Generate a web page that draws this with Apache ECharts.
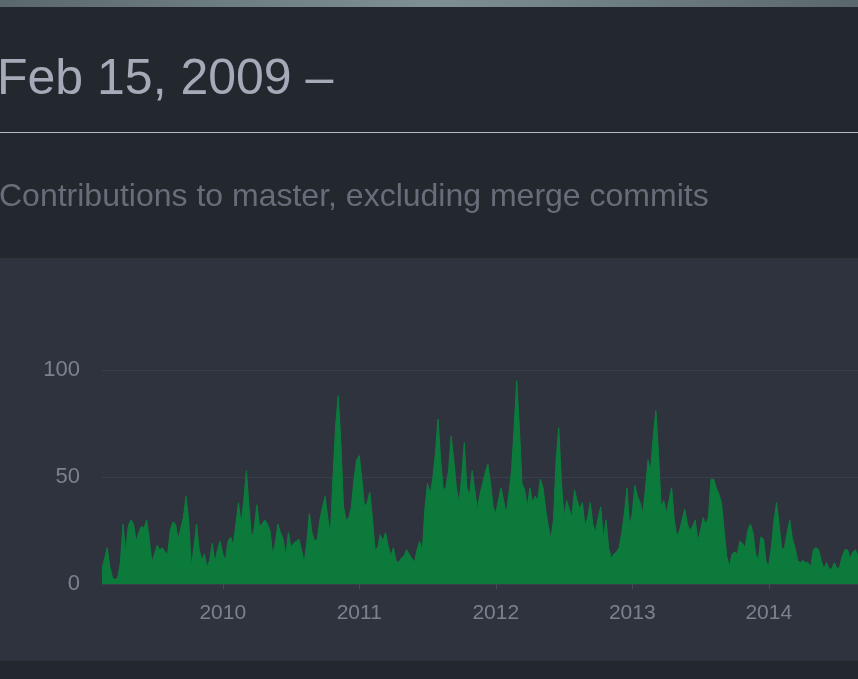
<!DOCTYPE html>
<html>
<head>
<meta charset="utf-8">
<script src="https://cdn.jsdelivr.net/npm/echarts@6/dist/echarts.min.js"></script>
<style>
  html, body { margin: 0; padding: 0; background: #23272e; overflow: hidden; }
  .strip { position: absolute; left: 0; top: 0; width: 858px; height: 7px;
           background: linear-gradient(90deg, #5a686d, #7f8f94 50%, #5a686d); }
  .rule { position: absolute; left: 0; top: 132px; width: 858px; height: 1px; background: #b7bbc3; }
  .panel { position: absolute; left: 0; top: 258px; width: 858px; height: 403px; background: #2f333e; }
  #main { position: absolute; left: 0; top: 0; width: 858px; height: 679px; }
</style>
</head>
<body>
<div class="strip"></div>
<div class="rule"></div>
<div class="panel"></div>
<div id="main"></div>
<script>
var startDate = '2009-02-15';
// commits per week
var weeklyCommits = [
  7, 12, 17, 8, 3, 2, 3, 10, 28, 15, 27, 30, 28, 20, 24, 27, 26, 30, 21, 10,
  14, 18, 16, 17, 15, 14, 25, 29, 28, 21, 26, 31, 41, 30, 8, 17, 28, 16, 11, 14,
  8, 11, 19, 10, 16, 20, 14, 11, 20, 22, 18, 28, 38, 28, 39, 53, 36, 21,
  26, 37, 27, 28, 30, 28, 25, 14, 19, 28, 24, 21, 13, 24, 17, 19, 20, 21, 16, 10,
  19, 33, 24, 20, 21, 30, 36, 41, 31, 23, 50, 74, 88, 66, 36, 30, 31, 36, 49, 58,
  60, 49, 36, 38, 43, 31, 16, 17, 23, 20, 24, 18, 13, 17, 11, 10, 12, 13,
  16, 14, 12, 10, 16, 20, 15, 35, 47, 42, 49, 61, 77, 58, 44, 45, 53, 69, 58, 45,
  38, 50, 66, 45, 41, 53, 44, 35, 42, 47, 52, 56, 47, 36, 33, 39, 45, 39, 33, 42,
  53, 73, 95, 73, 47, 44, 36, 45, 38, 41, 39, 49, 45, 35, 27, 21, 30, 58, 73,
  48, 31, 39, 35, 31, 44, 39, 35, 38, 27, 31, 38, 28, 24, 31, 36, 21, 30, 17, 12,
  14, 15, 17, 24, 33, 45, 27, 33, 46, 41, 38, 33, 44, 58, 53, 69, 81, 61, 36, 39,
  33, 39, 45, 30, 22, 25, 30, 35, 28, 25, 27, 30, 20, 25, 31, 28, 31, 49, 49,
  45, 42, 38, 25, 13, 8, 14, 15, 14, 20, 19, 17, 25, 28, 24, 14, 11, 22, 21, 10,
  9, 17, 30, 38, 27, 16, 17, 24, 30, 21, 17, 11, 10, 11, 10, 10, 8, 16, 17, 16,
  11, 7, 10, 7, 7, 10, 7, 8, 13, 16, 16, 12, 15, 16, 13
];
var yearLabels = ['2010', '2011', '2012', '2013', '2014'];

// one category per week from the start date
var DAY = 864e5;
var t0 = Date.parse(startDate + 'T00:00:00Z');
var weeks = weeklyCommits.map(function (v, i) {
  return new Date(t0 + i * 7 * DAY).toISOString().slice(0, 10);
});

// week nearest to 1 Jan of each labelled year
var yearAt = {};
yearLabels.forEach(function (y) {
  var target = Date.parse(y + '-01-01T00:00:00Z');
  var best = 0;
  weeks.forEach(function (w, i) {
    var d = Math.abs(Date.parse(w + 'T00:00:00Z') - target);
    var b = Math.abs(Date.parse(weeks[best] + 'T00:00:00Z') - target);
    if (d < b) best = i;
  });
  yearAt[best] = y;
});
function isYear(i) { return yearAt[i] !== undefined; }

var font = 'Liberation Sans, Arial, Helvetica, sans-serif';

var option = {
  animation: false,
  title: [
    {
      text: 'Feb 15, 2009 \u2013',
      left: -8, top: 50,
      textStyle: { fontFamily: font, fontSize: 50, fontWeight: 'normal', color: '#a5aab8' }
    },
    {
      text: 'Contributions to master, excluding merge commits',
      left: -6, top: 176,
      textStyle: { fontFamily: font, fontSize: 32, fontWeight: 'normal', color: '#686e79' }
    }
  ],
  grid: { left: 102, right: 0, top: 370, bottom: 95 },
  xAxis: {
    type: 'category',
    data: weeks,
    boundaryGap: false,
    axisLine: { show: false },
    axisTick: { show: true, interval: isYear, length: 5, lineStyle: { color: '#454a56' } },
    axisLabel: {
      interval: isYear,
      formatter: function (v, i) { return yearAt[i] || ''; },
      color: '#7c828d', fontFamily: font, fontSize: 21, margin: 19
    },
    splitLine: { show: false }
  },
  yAxis: {
    type: 'value',
    min: 0, max: 100, interval: 50,
    axisLine: { show: false },
    axisTick: { show: false },
    axisLabel: { color: '#7c828d', fontFamily: font, fontSize: 22, margin: 22 },
    splitLine: { lineStyle: { color: '#3a3e4a', width: 1 } }
  },
  series: [{
    type: 'line',
    data: weeklyCommits,
    symbol: 'none',
    lineStyle: { width: 1, color: '#0c7d3d' },
    areaStyle: { color: '#0b7a3b', opacity: 1 }
  }]
};

var chart = echarts.init(document.getElementById('main'));
chart.setOption(option);
</script>
</body>
</html>
